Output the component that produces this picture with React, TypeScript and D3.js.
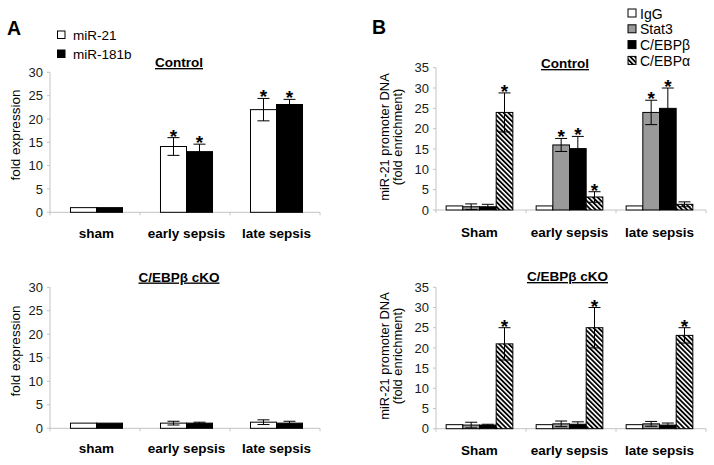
import React from "react";
import * as d3 from "d3";

// ---------- Data ----------
const categoriesA = ["sham", "early sepsis", "late sepsis"];
const seriesA = ["miR-21", "miR-181b"];

const aCtrlMiR21 = [1, 14.1, 22];
const aCtrlMiR21Err = [0, 1.9, 2.4];
const aCtrlMiR181b = [1, 13, 23.1];
const aCtrlMiR181bErr = [0, 1.6, 1.1];
const aCtrlStars = [[false, false], [true, true], [true, true]];

const aKoMiR21 = [1.1, 1.1, 1.3];
const aKoMiR21Err = [0, 0.4, 0.5];
const aKoMiR181b = [1.1, 1.1, 1.1];
const aKoMiR181bErr = [0, 0.2, 0.4];
const aKoStars = [[false, false], [false, false], [false, false]];

const categoriesB = ["Sham", "early sepsis", "late sepsis"];
const seriesB = ["IgG", "Stat3", "C/EBPβ", "C/EBPα"];

const bCtrlIgG = [1, 1, 1];
const bCtrlIgGErr = [0, 0, 0];
const bCtrlStat3 = [0.8, 16, 24];
const bCtrlStat3Err = [0.7, 1.6, 3];
const bCtrlCebpb = [0.8, 15.1, 25];
const bCtrlCebpbErr = [0.6, 3, 5];
const bCtrlCebpa = [24, 3.2, 1.4];
const bCtrlCebpaErr = [4.8, 1.3, 0.6];
const bCtrlStars = [
  [false, false, false, true],
  [false, true, true, true],
  [false, true, true, false],
];

const bKoIgG = [1, 1, 1];
const bKoIgGErr = [0, 0, 0];
const bKoStat3 = [0.9, 1.2, 1.2];
const bKoStat3Err = [0.7, 0.7, 0.6];
const bKoCebpb = [0.9, 1.1, 0.9];
const bKoCebpbErr = [0.2, 0.6, 0.5];
const bKoCebpa = [21, 25, 23.1];
const bKoCebpaErr = [4, 5, 1.9];
const bKoStars = [
  [false, false, false, true],
  [false, false, false, true],
  [false, false, false, true],
];

const ticksA = [0, 5, 10, 15, 20, 25, 30];
const ticksB = [0, 5, 10, 15, 20, 25, 30, 35];

// ---------- Styles ----------
const FONT = "'Liberation Sans', Arial, Helvetica, sans-serif";
const AXIS = "#c4c4c4";
const fillA = ["#ffffff", "#000000"];
const fillB = ["#ffffff", "#9a9a9a", "#000000", "url(#hatch)"];

type PanelProps = {
  categories: string[];
  series: string[];
  values: number[][]; // [series][category]
  errors: number[][];
  stars: boolean[][]; // [category][series]
  fills: string[];
  ticks: number[];
  yMax: number;
  x0: number;
  x1: number;
  yTop: number;
  yBottom: number;
  title: string;
  titleX: number;
  titleY: number;
  labelY: number;
  padding: number;
  shift: number;
};

function Panel(p: PanelProps) {
  const x = d3
    .scaleBand<string>()
    .domain(p.categories)
    .range([p.x0, p.x1])
    .paddingInner(p.padding)
    .paddingOuter(p.padding / 2);
  const xs = d3.scaleBand<string>().domain(p.series).range([0, x.bandwidth()]);
  const y = d3.scaleLinear().domain([0, p.yMax]).range([p.yBottom, p.yTop]);
  const step = x.step();
  const boundaries = d3.range(p.categories.length + 1).map((i) => p.x0 + i * step);
  const capW = 12;

  return (
    <g>
      {/* y axis */}
      <line x1={p.x0} x2={p.x0} y1={y(p.yMax)} y2={p.yBottom} stroke={AXIS} strokeWidth={1} />
      {p.ticks.map((t) => (
        <g key={t}>
          <line x1={p.x0 - 3} x2={p.x0} y1={y(t)} y2={y(t)} stroke={AXIS} strokeWidth={1} />
          <text x={p.x0 - 7} y={y(t)} dy="0.36em" textAnchor="end" fontSize={13} fill="#1a1a1a">
            {t}
          </text>
        </g>
      ))}
      {/* x axis */}
      <line x1={p.x0} x2={p.x1} y1={p.yBottom} y2={p.yBottom} stroke={AXIS} strokeWidth={1} />
      {boundaries.map((b, i) => (
        <line key={i} x1={b} x2={b} y1={p.yBottom} y2={p.yBottom + 3} stroke={AXIS} strokeWidth={1} />
      ))}
      {/* bars */}
      {p.categories.map((c, ci) => (
        <g key={c}>
          {p.series.map((s, si) => {
            const v = p.values[si][ci];
            const e = p.errors[si][ci];
            const bx = (x(c) as number) + (xs(s) as number) + p.shift;
            const bw = xs.bandwidth();
            const cx = bx + bw / 2;
            return (
              <g key={s}>
                <rect
                  x={bx}
                  y={y(v)}
                  width={bw}
                  height={p.yBottom - y(v)}
                  fill={p.fills[si]}
                  stroke="#000"
                  strokeWidth={1}
                />
                {e > 0 && (
                  <g stroke="#000" strokeWidth={1}>
                    <line x1={cx} x2={cx} y1={y(v - e)} y2={y(v + e)} />
                    <line x1={cx - capW / 2} x2={cx + capW / 2} y1={y(v + e)} y2={y(v + e)} />
                    <line x1={cx - capW / 2} x2={cx + capW / 2} y1={y(v - e)} y2={y(v - e)} />
                  </g>
                )}
                {p.stars[ci][si] && (
                  <text x={cx} y={y(v + e) + 5} textAnchor="middle" fontSize={19} fontWeight="bold">
                    *
                  </text>
                )}
              </g>
            );
          })}
          <text
            x={(x(c) as number) + x.bandwidth() / 2 + p.shift}
            y={p.labelY}
            textAnchor="middle"
            fontSize={13.5}
            fontWeight="bold"
          >
            {c}
          </text>
        </g>
      ))}
      <text
        x={p.titleX}
        y={p.titleY}
        textAnchor="middle"
        fontSize={13.5}
        fontWeight="bold"
        textDecoration="underline"
      >
        {p.title}
      </text>
    </g>
  );
}

export default function App() {
  return (
    <svg
      width={714}
      height={465}
      viewBox="0 0 714 465"
      style={{ position: "absolute", left: 0, top: 0, background: "#fff" }}
      fontFamily={FONT}
    >
      <defs>
        <pattern id="hatch" patternUnits="userSpaceOnUse" width={3.4} height={3.4} patternTransform="rotate(-45)">
          <rect width={3.4} height={3.4} fill="#fff" />
          <line x1={0.9} x2={0.9} y1={0} y2={3.4} stroke="#000" strokeWidth={1.8} />
        </pattern>
      </defs>
      <rect width={714} height={465} fill="#fff" />

      {/* Panel letters */}
      <text x={7} y={35} fontSize={19.5} fontWeight="bold">A</text>
      <text x={372} y={34} fontSize={19.5} fontWeight="bold">B</text>

      {/* Legend A */}
      {seriesA.map((s, i) => (
        <g key={s}>
          <rect x={57.5} y={31 + i * 19} width={7.5} height={7.5} fill={fillA[i]} stroke="#000" strokeWidth={1} />
          <text x={73} y={39.5 + i * 19} fontSize={13.5}>{s}</text>
        </g>
      ))}

      {/* Legend B */}
      {seriesB.map((s, i) => (
        <g key={s}>
          <rect x={628} y={9 + i * 15.8} width={8} height={8} fill={fillB[i]} stroke="#000" strokeWidth={1} />
          <text x={640} y={18.5 + i * 15.8} fontSize={14}>{s}</text>
        </g>
      ))}

      {/* Y labels */}
      <text transform="translate(20,135) rotate(-90)" textAnchor="middle" fontSize={13.5}>fold expression</text>
      <text transform="translate(20,351) rotate(-90)" textAnchor="middle" fontSize={13.5}>fold expression</text>
      <text transform="translate(389,137) rotate(-90)" textAnchor="middle" fontSize={12.9}>miR-21 promoter DNA</text>
      <text transform="translate(402,137) rotate(-90)" textAnchor="middle" fontSize={12.9}>(fold enrichment)</text>
      <text transform="translate(389,356) rotate(-90)" textAnchor="middle" fontSize={12.9}>miR-21 promoter DNA</text>
      <text transform="translate(402,356) rotate(-90)" textAnchor="middle" fontSize={12.9}>(fold enrichment)</text>

      <Panel
        categories={categoriesA}
        series={seriesA}
        values={[aCtrlMiR21, aCtrlMiR181b]}
        errors={[aCtrlMiR21Err, aCtrlMiR181bErr]}
        stars={aCtrlStars}
        fills={fillA}
        ticks={ticksA}
        yMax={30}
        x0={50}
        x1={320}
        yTop={72.3}
        yBottom={212.3}
        title="Control"
        titleX={179}
        titleY={67}
        labelY={237.5}
        padding={0.422}
        shift={1.5}
      />
      <Panel
        categories={categoriesA}
        series={seriesA}
        values={[aKoMiR21, aKoMiR181b]}
        errors={[aKoMiR21Err, aKoMiR181bErr]}
        stars={aKoStars}
        fills={fillA}
        ticks={ticksA}
        yMax={30}
        x0={50}
        x1={320}
        yTop={287.3}
        yBottom={428.3}
        title="C/EBPβ cKO"
        titleX={179}
        titleY={281.5}
        labelY={452.7}
        padding={0.422}
        shift={1.5}
      />
      <Panel
        categories={categoriesB}
        series={seriesB}
        values={[bCtrlIgG, bCtrlStat3, bCtrlCebpb, bCtrlCebpa]}
        errors={[bCtrlIgGErr, bCtrlStat3Err, bCtrlCebpbErr, bCtrlCebpaErr]}
        stars={bCtrlStars}
        fills={fillB}
        ticks={ticksB}
        yMax={35}
        x0={436}
        x1={706}
        yTop={67.7}
        yBottom={210}
        title="Control"
        titleX={565}
        titleY={68}
        labelY={236.5}
        padding={0.259}
        shift={-1.5}
      />
      <Panel
        categories={categoriesB}
        series={seriesB}
        values={[bKoIgG, bKoStat3, bKoCebpb, bKoCebpa]}
        errors={[bKoIgGErr, bKoStat3Err, bKoCebpbErr, bKoCebpaErr]}
        stars={bKoStars}
        fills={fillB}
        ticks={ticksB}
        yMax={35}
        x0={436}
        x1={706}
        yTop={287.3}
        yBottom={428.7}
        title="C/EBPβ cKO"
        titleX={567.5}
        titleY={281}
        labelY={455}
        padding={0.259}
        shift={-1.5}
      />
    </svg>
  );
}
